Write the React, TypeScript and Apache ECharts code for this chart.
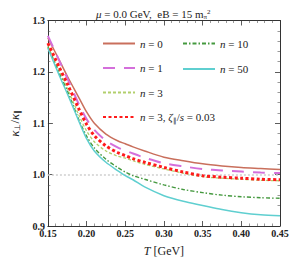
import React, { useEffect, useRef } from "react";
import * as echarts from "echarts";

const T = [0.15, 0.165, 0.175, 0.19, 0.2, 0.21, 0.225, 0.24, 0.25, 0.26, 0.275, 0.3, 0.325, 0.35, 0.375, 0.4, 0.425, 0.45];
const n0 = [1.266, 1.222, 1.192, 1.15, 1.122, 1.1, 1.079, 1.066, 1.06, 1.054, 1.046, 1.034, 1.027, 1.021, 1.017, 1.014, 1.012, 1.01];
const n1 = [1.27, 1.221, 1.188, 1.137, 1.108, 1.087, 1.066, 1.053, 1.047, 1.041, 1.033, 1.022, 1.016, 1.011, 1.008, 1.006, 1.004, 1.003];
const n3 = [1.25, 1.2, 1.168, 1.116, 1.085, 1.064, 1.046, 1.036, 1.032, 1.027, 1.02, 1.011, 1.003, 0.996, 0.993, 0.991, 0.989, 0.988];
const n3zeta = [1.256, 1.208, 1.177, 1.128, 1.098, 1.076, 1.056, 1.043, 1.037, 1.031, 1.024, 1.014, 1.005, 0.998, 0.995, 0.993, 0.991, 0.99];
const n10 = [1.248, 1.196, 1.163, 1.107, 1.075, 1.052, 1.03, 1.014, 1.005, 0.998, 0.991, 0.98, 0.971, 0.965, 0.96, 0.957, 0.955, 0.954];
const n50 = [1.246, 1.192, 1.158, 1.104, 1.07, 1.046, 1.024, 1.008, 0.998, 0.99, 0.976, 0.959, 0.948, 0.94, 0.932, 0.926, 0.922, 0.92];

const labels: Record<string, string> = {
  n0: "{i|n} = 0",
  n1: "{i|n} = 1",
  n3: "{i|n} = 3",
  n3z: "{i|n} = 3, {i|ζ}{sub|∥}/{i|s} = 0.03",
  n10: "{i|n} = 10",
  n50: "{i|n} = 50",
};

const SERIF = "Liberation Serif, Times New Roman, serif";

const rich = {
  i: { fontFamily: SERIF, fontStyle: "italic", fontSize: 11, color: "#222" },
  sub: { fontFamily: SERIF, fontSize: 7, color: "#222", verticalAlign: "bottom", padding: [4, 0, 0, 0] },
};

const pairs = (ys: number[]) => T.map((t, k) => [t, ys[k]]);

export default function App() {
  const ref = useRef<HTMLDivElement>(null);
  useEffect(() => {
    const chart = echarts.init(ref.current!, null, { renderer: "svg" });
    const axisCommon = {
      type: "value" as const,
      axisLine: { show: true, lineStyle: { color: "#333", width: 1 } },
      axisTick: { show: true, inside: true, length: 5, lineStyle: { color: "#333", width: 0.8 } },
      minorTick: { show: true, splitNumber: 5, length: 2.5, lineStyle: { color: "#555", width: 0.6 } },
      splitLine: { show: false },
    };
    const legendCommon = {
      orient: "vertical",
      top: 36.5,
      padding: 0,
      itemWidth: 32,
      itemHeight: 14,
      itemStyle: { opacity: 0 },
      formatter: (name: string) => labels[name],
      textStyle: { fontFamily: SERIF, fontSize: 11, color: "#222", lineHeight: 14, rich },
    };
    const option: any = {
      animation: false,
      backgroundColor: "#fff",
      title: {
        text: "{i|μ} = 0.0 GeV,  eB = 15 m{sub|π}{sup|2}",
        left: 91,
        top: 3,
        textStyle: {
          fontFamily: SERIF,
          fontSize: 11,
          fontWeight: "normal",
          color: "#222",
          rich: {
            i: { fontFamily: SERIF, fontStyle: "italic", fontSize: 11, color: "#222" },
            sub: { fontFamily: SERIF, fontSize: 7, color: "#222", verticalAlign: "bottom", padding: [5, 0, 0, 0] },
            sup: { fontFamily: SERIF, fontSize: 7, color: "#222", verticalAlign: "top", padding: [0, 0, 5, 0] },
          },
        },
      },
      grid: { left: 37, right: 20, top: 20.5, bottom: 35 },
      legend: [
        { ...legendCommon, data: ["n0", "n1", "n3", "n3z"], left: 102, itemGap: 10.5 },
        { ...legendCommon, data: ["n10", "n50"], left: 182, itemGap: 11.5 },
      ],
      xAxis: [
        {
          ...axisCommon,
          min: 0.15,
          max: 0.45,
          interval: 0.05,
          position: "bottom",
          name: "{i|T} [GeV]",
          nameLocation: "middle",
          nameGap: 19,
          nameTextStyle: {
            fontFamily: SERIF,
            fontSize: 12,
            color: "#222",
            rich: { i: { fontFamily: SERIF, fontStyle: "italic", fontSize: 12, color: "#222" } },
          },
          axisLabel: {
            fontFamily: SERIF,
            fontWeight: "bold",
            fontSize: 10,
            color: "#222",
            margin: 2,
            formatter: (v: number) => v.toFixed(2),
          },
        },
        {
          ...axisCommon,
          min: 0.15,
          max: 0.45,
          interval: 0.05,
          position: "top",
          axisLabel: { show: false },
        },
      ],
      yAxis: [
        {
          ...axisCommon,
          min: 0.9,
          max: 1.3,
          interval: 0.1,
          position: "left",
          name: "{i|κ}{sub|⊥}/{i|κ}{sub|∥}",
          nameLocation: "middle",
          nameRotate: 90,
          nameGap: 21,
          nameTextStyle: {
            fontFamily: SERIF,
            fontSize: 13,
            color: "#222",
            rich: {
              i: { fontFamily: SERIF, fontStyle: "italic", fontSize: 13, color: "#222" },
              sub: { fontFamily: SERIF, fontSize: 8, color: "#222", verticalAlign: "bottom", padding: [6, 0, 0, 0] },
            },
          },
          axisLabel: {
            fontFamily: SERIF,
            fontWeight: "bold",
            fontSize: 10,
            color: "#222",
            margin: 3,
            formatter: (v: number) => v.toFixed(1),
          },
        },
        {
          ...axisCommon,
          min: 0.9,
          max: 1.3,
          interval: 0.1,
          position: "right",
          axisLabel: { show: false },
        },
      ],
      series: [
        {
          name: "n0",
          type: "line",
          data: pairs(n0),
          smooth: 0.3,
          symbol: "none",
          color: "#C96F5C",
          lineStyle: { color: "#C96F5C", width: 1.5 },
          z: 3,
          markLine: {
            silent: true,
            symbol: ["none", "none"],
            label: { show: false },
            lineStyle: { color: "#cfcfcf", type: [2, 2], width: 1.5 },
            data: [{ yAxis: 1.0 }],
            z: 1,
          },
        },
        {
          name: "n1",
          type: "line",
          data: pairs(n1),
          smooth: 0.3,
          symbol: "none",
          color: "#D46FDB",
          lineStyle: { color: "#D46FDB", width: 2, type: [12, 9] },
          z: 3,
        },
        {
          name: "n3",
          type: "line",
          data: pairs(n3),
          smooth: 0.3,
          symbol: "none",
          color: "#B2CF6C",
          lineStyle: { color: "#B2CF6C", width: 1.3, type: [3, 2] },
          z: 3,
        },
        {
          name: "n10",
          type: "line",
          data: pairs(n10),
          smooth: 0.3,
          symbol: "none",
          color: "#45993F",
          lineStyle: { color: "#45993F", width: 1.4, type: [4, 2, 1.5, 2] },
          z: 3,
        },
        {
          name: "n50",
          type: "line",
          data: pairs(n50),
          smooth: 0.3,
          symbol: "none",
          color: "#5FCFD0",
          lineStyle: { color: "#5FCFD0", width: 1.5 },
          z: 3,
        },
        {
          name: "n3z",
          type: "line",
          data: pairs(n3zeta),
          smooth: 0.3,
          symbol: "none",
          color: "#FF1A1A",
          lineStyle: { color: "#FF1A1A", width: 3, type: [3, 2.5] },
          z: 4,
        },
      ],
    };
    chart.setOption(option);
    return () => chart.dispose();
  }, []);
  return (
    <div
      ref={ref}
      style={{ position: "absolute", left: 0, top: 0, width: 300, height: 262 }}
    />
  );
}
